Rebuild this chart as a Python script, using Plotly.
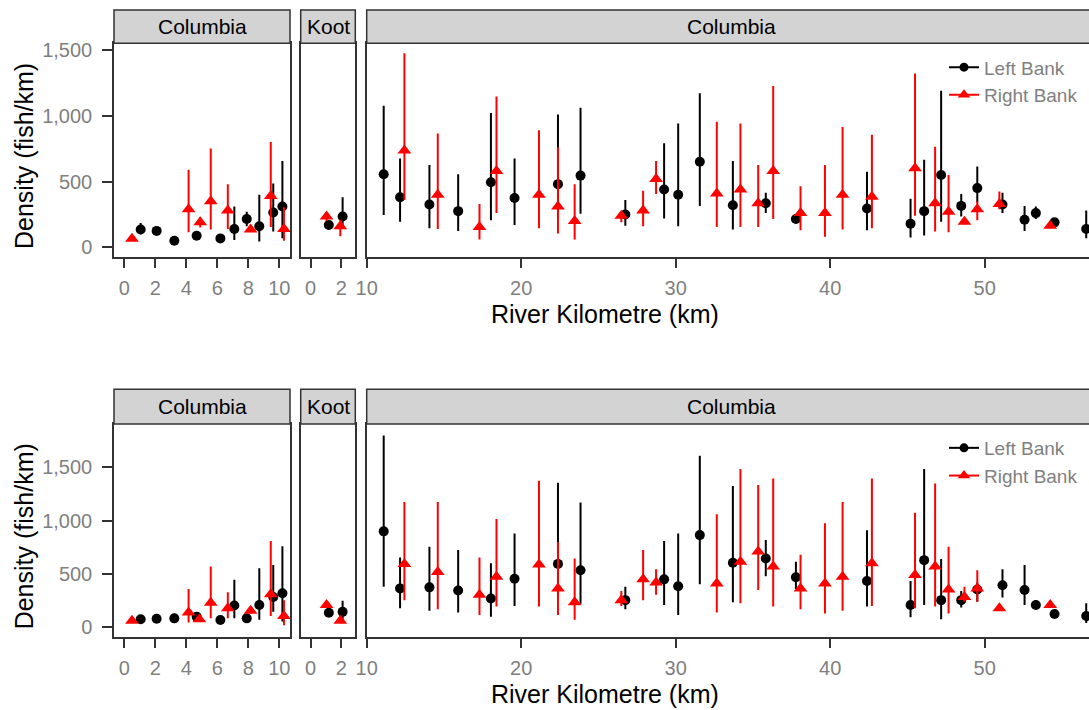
import plotly.graph_objects as go

# ---------------------------------------------------------------------------
# Density estimates (fish/km) with lower / upper interval, by river km.
# Facets: "C1" = Columbia above the confluence, "K" = Kootenay, "C2" = Columbia below.
# ---------------------------------------------------------------------------

# Upper panel row
a_left_facet = ["C1"] * 10 + ["K"] * 2 + ["C2"] * 26
a_left_km = [1.06, 2.09, 3.23, 4.67, 6.2, 7.1, 7.9, 8.71, 9.61, 10.2,
             1.19, 2.09,
             11.1, 12.16, 14.06, 15.92, 18.04, 19.57, 22.38, 23.84, 26.74, 29.25,
             30.16, 31.56, 33.7, 35.83, 37.78, 42.38, 45.2, 46.08, 47.18, 48.48,
             49.52, 51.15, 52.58, 53.31, 54.52, 56.57]
a_left_dens = [135, 125, 50, 88, 68, 140, 215, 160, 265, 310,
               170, 235,
               555, 380, 325, 275, 495, 375, 480, 545, 250, 440,
               400, 650, 320, 335, 215, 295, 180, 275, 550, 315,
               450, 325, 210, 260, 190, 140]
a_left_lo = [100, 110, 40, 75, 60, 55, 160, 45, 120, 70,
             145, 140,
             245, 195, 145, 125, 205, 170, 220, 255, 165, 220,
             160, 315, 135, 260, 190, 130, 75, 90, 195, 235,
             340, 260, 125, 215, 165, 70]
a_left_hi = [185, 140, 60, 100, 78, 310, 270, 400, 485, 655,
             195, 380,
             1075, 675, 625, 555, 1020, 675, 1010, 1060, 360, 790,
             940, 1170, 655, 415, 240, 575, 370, 665, 1190, 405,
             615, 415, 315, 310, 215, 280]

a_right_facet = ["C1"] * 8 + ["K"] * 2 + ["C2"] * 25
a_right_km = [0.5, 4.15, 4.9, 5.58, 6.68, 8.15, 9.45, 10.3,
              1.04, 1.94,
              12.44, 14.6, 17.3, 18.4, 21.15, 22.38, 23.46, 26.48, 27.89, 28.73,
              32.66, 34.19, 35.34, 36.31, 38.08, 39.66, 40.8, 42.7, 45.49, 46.79,
              47.66, 48.69, 49.52, 50.95, 54.24]
a_right_dens = [65, 290, 190, 350, 280, 135, 390, 140,
                235, 160,
                735, 400, 155, 580, 400, 310, 200, 240, 280, 520,
                410, 440, 335, 580, 260, 260, 400, 385, 600, 335,
                270, 195, 290, 330, 165]
a_right_lo = [55, 115, 150, 135, 140, 120, 155, 50,
              200, 85,
              360, 140, 60, 260, 145, 105, 60, 190, 160, 405,
              155, 155, 155, 215, 130, 80, 135, 145, 240, 120,
              115, 175, 205, 290, 150]
a_right_hi = [75, 590, 230, 750, 480, 150, 800, 305,
              265, 210,
              1475, 865, 330, 1145, 890, 760, 480, 265, 430, 655,
              955, 940, 625, 1225, 465, 625, 915, 855, 1320, 765,
              550, 215, 350, 425, 180]

# Lower panel row
b_left_facet = ["C1"] * 10 + ["K"] * 2 + ["C2"] * 26
b_left_km = a_left_km
b_left_dens = [75, 81, 84, 100, 68, 205, 84, 210, 285, 320,
               137, 145,
               900, 365, 375, 345, 270, 455, 595, 535, 255, 450,
               385, 865, 605, 645, 470, 435, 210, 630, 255, 255,
               355, 395, 350, 209, 125, 106]
b_left_lo = [70, 75, 78, 92, 62, 85, 78, 70, 145, 55,
             120, 40,
             380, 180, 155, 140, 100, 200, 300, 220, 170, 210,
             115, 405, 235, 480, 360, 195, 95, 210, 75, 185,
             240, 280, 210, 190, 110, 40]
b_left_hi = [82, 88, 90, 108, 75, 445, 90, 555, 585, 760,
             155, 250,
             1800, 655, 755, 725, 600, 880, 1355, 1170, 380, 810,
             880, 1610, 1325, 820, 615, 910, 435, 1485, 640, 340,
             420, 545, 585, 230, 140, 225]

b_right_facet = ["C1"] * 8 + ["K"] * 2 + ["C2"] * 25
b_right_km = [0.5, 4.15, 4.85, 5.58, 6.68, 8.15, 9.45, 10.3,
              1.04, 1.94,
              12.44, 14.6, 17.3, 18.4, 21.15, 22.38, 23.46, 26.48, 27.89, 28.73,
              32.66, 34.19, 35.34, 36.31, 38.08, 39.66, 40.8, 42.7, 45.49, 46.79,
              47.66, 48.69, 49.52, 50.95, 54.24]
b_right_dens = [62, 140, 75, 230, 180, 155, 310, 105,
                209, 62,
                595, 520, 305, 475, 590, 365, 235, 255, 450, 420,
                410, 615, 710, 570, 365, 410, 475, 600, 490, 570,
                355, 285, 365, 178, 209]
b_right_lo = [55, 45, 68, 85, 85, 130, 105, 20,
              185, 50,
              255, 170, 115, 195, 195, 115, 70, 200, 255, 305,
              140, 225, 350, 195, 170, 130, 155, 200, 180, 195,
              130, 240, 240, 160, 190]
b_right_hi = [70, 360, 82, 570, 330, 180, 810, 255,
              230, 75,
              1175, 1175, 655, 1015, 1375, 800, 645, 340, 725, 545,
              1060, 1485, 1335, 1395, 680, 975, 1175, 1395, 1075, 1350,
              755, 380, 535, 195, 230]

facet_names = ["C1", "K", "C2"]
facet_labels = ["Columbia", "Koot", "Columbia"]
x_ticks = [[0, 2, 4, 6, 8, 10], [0, 2], [10, 20, 30, 40, 50, 60]]
y_ticks = [0, 500, 1000, 1500]

# ---------------------------------------------------------------------------
# Layout geometry (pixels of a 1089 x 710 page)
# ---------------------------------------------------------------------------
W, H = 1089, 710
FONT = "Liberation Sans, Arial, sans-serif"
GREY_TXT = "#7f7f7f"
LINE = "#333333"

panel_px = [(114, 290), (300.7, 355.3), (366.7, 1089)]
x_ranges = [[-0.66, 10.69], [-0.65, 2.92], [10.0, 56.75]]
rows = [
    dict(strip_top=10, panel_top=43.3, panel_bot=256.7, yrange=[-71, 1550]),
    dict(strip_top=389.3, panel_top=424, panel_bot=636.7, yrange=[-88, 1907]),
]


def px_x(v):
    return v / W


def px_y(v):
    return 1 - v / H


fig = go.Figure()
layout = dict(
    width=W, height=H,
    margin=dict(l=0, r=0, t=0, b=0, autoexpand=False),
    paper_bgcolor="white", plot_bgcolor="white",
    font=dict(family=FONT, color="black"),
    showlegend=True,
)
shapes, annotations = [], []

series = [
    ([a_left_facet, a_left_km, a_left_dens, a_left_lo, a_left_hi],
     [a_right_facet, a_right_km, a_right_dens, a_right_lo, a_right_hi]),
    ([b_left_facet, b_left_km, b_left_dens, b_left_lo, b_left_hi],
     [b_right_facet, b_right_km, b_right_dens, b_right_lo, b_right_hi]),
]

bank_style = [
    dict(name="Left Bank", color="#000000", symbol="circle", size=10),
    dict(name="Right Bank", color="#ff0000", symbol="triangle-up", size=12),
]

for r, row in enumerate(rows):
    ydom = [px_y(row["panel_bot"]), px_y(row["panel_top"])]
    for f in range(3):
        idx = r * 3 + f + 1
        xa = "xaxis" if idx == 1 else f"xaxis{idx}"
        ya = "yaxis" if idx == 1 else f"yaxis{idx}"
        xref = "x" if idx == 1 else f"x{idx}"
        yref = "y" if idx == 1 else f"y{idx}"
        x0, x1 = panel_px[f]
        last = f == 2
        layout[xa] = dict(
            domain=[px_x(x0), min(px_x(x1), 1.0)], range=x_ranges[f],
            anchor=yref, showgrid=False, zeroline=False, automargin=False,
            showline=True, linecolor=LINE, linewidth=1.5, mirror=True,
            ticks="outside", ticklen=10, tickwidth=1.5, tickcolor=LINE,
            tickvals=x_ticks[f], ticktext=[str(t) for t in x_ticks[f]],
            tickfont=dict(size=20, color=GREY_TXT, family=FONT),
            ticklabelstandoff=3,
        )
        layout[ya] = dict(
            domain=ydom, range=row["yrange"], anchor=xref,
            showgrid=False, zeroline=False, automargin=False,
            showline=True, linecolor=LINE, linewidth=1.5, mirror=not last,
            ticks="outside" if f == 0 else "", ticklen=10, tickwidth=1.5,
            tickcolor=LINE, tickvals=y_ticks,
            ticktext=[f"{t:,}" for t in y_ticks],
            showticklabels=(f == 0),
            tickfont=dict(size=20, color=GREY_TXT, family=FONT),
            ticklabelstandoff=6,
        )

        # strip header
        sx1 = px_x(x1) if not last else 1.02
        shapes.append(dict(
            type="rect", xref="paper", yref="paper",
            x0=px_x(x0), x1=sx1, y0=px_y(row["panel_top"]), y1=px_y(row["strip_top"]),
            fillcolor="#d3d3d3", line=dict(color=LINE, width=1.5), layer="above",
        ))
        cx = (x0 + x1) / 2 if not last else 731
        annotations.append(dict(
            text=facet_labels[f], xref="paper", yref="paper",
            x=px_x(cx), y=px_y((row["strip_top"] + row["panel_top"]) / 2),
            showarrow=False, xanchor="center", yanchor="middle",
            font=dict(size=21, color="black", family=FONT),
        ))

        # point ranges for both banks
        for b, (fac, km, dens, lo, hi) in enumerate(series[r]):
            st = bank_style[b]
            sel = [i for i, v in enumerate(fac) if v == facet_names[f]]
            xs = [km[i] for i in sel]
            ys = [dens[i] for i in sel]
            up = [hi[i] - dens[i] for i in sel]
            dn = [dens[i] - lo[i] for i in sel]
            fig.add_trace(go.Scatter(
                x=xs, y=ys, xaxis=xref, yaxis=yref, mode="markers",
                marker=dict(color=st["color"], symbol=st["symbol"], size=st["size"],
                            line=dict(width=0)),
                error_y=dict(type="data", symmetric=False, array=up, arrayminus=dn,
                             color=st["color"], thickness=2, width=0),
                showlegend=False, name=st["name"], hoverinfo="skip",
            ))

    # legend key entries for this row
    legend_id = "legend" if r == 0 else "legend2"
    ref_idx = r * 3 + 3
    for st in bank_style:
        fig.add_trace(go.Scatter(
            x=[None], y=[None], xaxis=f"x{ref_idx}", yaxis=f"y{ref_idx}",
            mode="lines+markers", name=st["name"], legend=legend_id,
            line=dict(color=st["color"], width=2),
            marker=dict(color=st["color"], symbol=st["symbol"], size=st["size"] - 1),
        ))
    layout[legend_id] = dict(
        x=px_x(944), y=px_y(row["panel_top"] + 5), xanchor="left", yanchor="top",
        bgcolor="rgba(0,0,0,0)", borderwidth=0,
        font=dict(size=19, color=GREY_TXT, family=FONT),
        itemwidth=30, tracegroupgap=0,
    )

    # axis titles
    annotations.append(dict(
        text="River Kilometre (km)", xref="paper", yref="paper",
        x=px_x(605), y=px_y(row["panel_bot"] + 57), showarrow=False,
        xanchor="center", yanchor="middle",
        font=dict(size=25, color="black", family=FONT),
    ))
    annotations.append(dict(
        text="Density (fish/km)", xref="paper", yref="paper",
        x=px_x(24), y=px_y((row["panel_top"] + row["panel_bot"]) / 2 + 6),
        showarrow=False, textangle=-90, xanchor="center", yanchor="middle",
        font=dict(size=25, color="black", family=FONT),
    ))

layout["shapes"] = shapes
layout["annotations"] = annotations
fig.update_layout(**layout)
fig.write_html("out.html")
